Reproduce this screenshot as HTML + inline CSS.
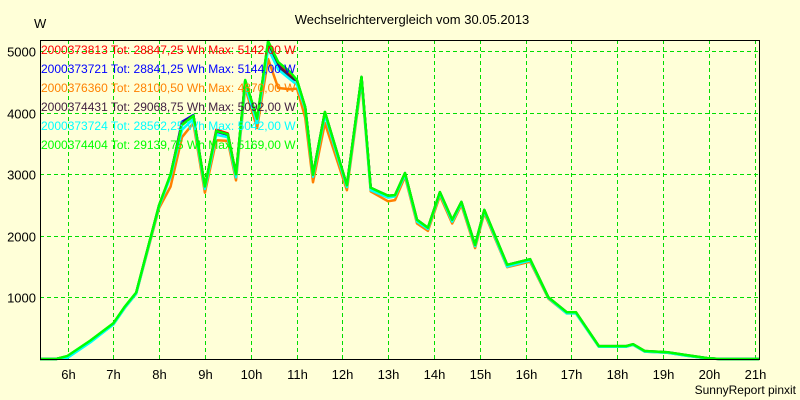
<!DOCTYPE html>
<html><head><meta charset="utf-8"><style>
body{margin:0;background:#ffffd8;}
svg{display:block;font-family:"Liberation Sans",sans-serif;}
</style></head><body>
<svg id="c" width="800" height="400">
<rect x="0" y="0" width="800" height="400" fill="#ffffd8"/>
<text x="412" y="24" font-size="13" text-anchor="middle">Wechselrichtervergleich vom 30.05.2013</text>
<text x="34" y="28" font-size="13">W</text>
<text x="796" y="394" font-size="12" text-anchor="end">SunnyReport pinxit</text>
<g id="grid"></g><g id="series"></g><g id="axes"></g><g id="legend"></g>
</svg>
<script>
const times=[5.4,5.75,6.0,6.5,7.0,7.25,7.5,8.0,8.25,8.5,8.75,9.0,9.25,9.5,9.68,9.88,10.14,10.38,10.6,10.86,11.01,11.19,11.36,11.62,12.1,12.42,12.62,13.0,13.15,13.37,13.63,13.87,14.13,14.4,14.6,14.9,15.1,15.6,16.1,16.5,16.9,17.1,17.6,18.2,18.35,18.6,19.1,19.5,19.97,20.25,21.1];
const green=[0,0,50,300,580,850,1080,2500,3000,3800,3950,2800,3700,3650,3000,4530,3900,5160,4820,4660,4530,4090,2990,4010,2820,4580,2780,2650,2660,3020,2260,2130,2710,2260,2550,1850,2420,1530,1620,1000,760,760,210,210,240,130,110,65,15,0,0];
const cyan=[0,0,20,270,560,830,1060,2480,2960,3720,3900,2760,3640,3600,2950,4450,3830,5040,4700,4540,4450,4060,2960,3960,2790,4540,2740,2620,2640,2990,2230,2110,2690,2230,2530,1830,2400,1500,1600,990,740,740,200,200,230,120,100,55,10,0,0];
const orange=[0,0,30,280,560,830,1060,2450,2800,3600,3830,2700,3550,3540,2900,4400,3750,4870,4400,4380,4390,3920,2870,3830,2740,4500,2720,2560,2580,2960,2200,2080,2650,2200,2500,1800,2370,1490,1580,980,740,740,200,200,230,120,100,55,10,0,0];
const blue=[0,0,40,290,570,840,1070,2490,2980,3850,3960,2780,3690,3640,2980,4500,3880,5144,4760,4560,4520,4080,2980,4000,2810,4570,2770,2640,2650,3010,2250,2120,2700,2250,2540,1840,2410,1520,1610,995,750,750,205,205,235,125,105,60,12,0,0];
const red=[0,0,40,290,570,840,1070,2490,2980,3800,3950,2790,3720,3660,2990,4520,3890,5142,4790,4600,4520,4080,2980,4000,2810,4570,2770,2640,2650,3010,2250,2120,2700,2250,2540,1840,2410,1520,1610,995,750,750,205,205,235,125,105,60,12,0,0];
const dark=[0,0,45,295,575,845,1075,2495,2990,3830,3950,2790,3700,3650,2990,4520,3890,5092,4760,4580,4520,4090,2990,4010,2820,4580,2780,2650,2660,3020,2260,2130,2710,2260,2550,1850,2420,1530,1620,1000,760,760,210,210,240,130,110,65,15,0,0];
const seriesNames=["2000373813","2000373721","2000376360","2000374431","2000373724","2000374404"];
const legendTexts=["2000373813 Tot: 28847,25 Wh Max: 5142,00 W","2000373721 Tot: 28841,25 Wh Max: 5144,00 W","2000376360 Tot: 28100,50 Wh Max: 4870,00 W","2000374431 Tot: 29068,75 Wh Max: 5092,00 W","2000373724 Tot: 28562,25 Wh Max: 5042,00 W","2000374404 Tot: 29139,75 Wh Max: 5169,00 W"];
const hourTicks=[6,7,8,9,10,11,12,13,14,15,16,17,18,19,20,21];
const yTicks=[1000,2000,3000,4000,5000];
const colors=["#ff0000","#0000ff","#ff8000","#402040","#00ffff","#00ff00"];
const allSeries=[red,blue,orange,dark,cyan,green];
const L=40,R=759,T=40,B=359;
const xs=t=>67.5+(t-6)*45.8;
const ys=v=>B-v*0.0616;
const NS="http://www.w3.org/2000/svg";
function mk(tag,attrs,parent){const e=document.createElementNS(NS,tag);for(const k in attrs)e.setAttribute(k,attrs[k]);parent.appendChild(e);return e;}
const grid=document.getElementById('grid'),axes=document.getElementById('axes'),ser=document.getElementById('series'),leg=document.getElementById('legend');
hourTicks.forEach(h=>{
 const x=Math.round(xs(h))+0.5;
 const ln=mk('line',{x1:x,x2:x,y1:T,y2:B,stroke:'#00dd00','stroke-dasharray':'4,3'},grid);
 
 
 const tx=mk('text',{x:x,y:379,'font-size':13,'text-anchor':'middle'},axes);
 tx.textContent=h+'h';
 
 
});
yTicks.forEach(v=>{
 const y=Math.round(ys(v))+0.5;
 const ln=mk('line',{x1:L,x2:R,y1:y,y2:y,stroke:'#00dd00','stroke-dasharray':'4,3'},grid);
 
 
 const tx=mk('text',{x:36,y:y+5,'font-size':13,'text-anchor':'end'},axes);
 tx.textContent=v;
 
 
});
const frame=mk('path',{d:`M${L}.5 ${T}.5V${B}.5H${R}.5V${T}.5Z`,fill:'none',stroke:'#000','stroke-width':1},axes);


allSeries.forEach((s,i)=>{
 const pts=s.map((v,j)=>xs(times[j]).toFixed(1)+','+ys(v).toFixed(1)).join(' ');
 const pl=mk('polyline',{points:pts,fill:'none',stroke:colors[i],'stroke-width':2.5,'stroke-linejoin':'round'},ser);
 
 
});
legendTexts.forEach((t,i)=>{
 const tx=mk('text',{x:41,y:54+i*19,'font-size':12,fill:colors[i]},leg);
 tx.textContent=t;
 
 
});
</script>
</body></html>
